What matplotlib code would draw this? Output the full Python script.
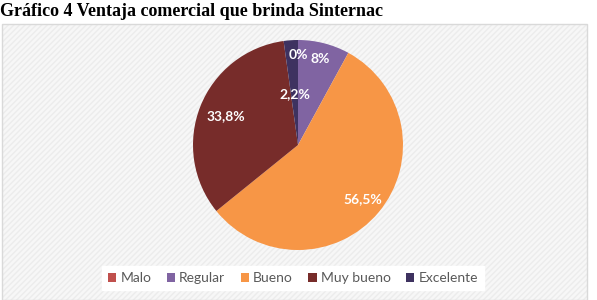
import numpy as np
import matplotlib.pyplot as plt
from matplotlib.patches import Rectangle

categories = ['Malo', 'Regular', 'Bueno', 'Muy bueno', 'Excelente']
values = [0, 8, 56.5, 33.8, 2.2]
colors = ['#c0504d', '#8064a2', '#f79646', '#772c2a', '#3e3260']
title = 'Gráfico 4 Ventaja comercial que brinda Sinternac'


def fmt(v):
    if float(v).is_integer():
        return f'{int(v)}%'
    return f'{v:.1f}%'.replace('.', ',')


fig = plt.figure(figsize=(5.97, 3.0), dpi=100)

# chart area (light hatched background + thin border)
fig.patches.append(Rectangle((2 / 597, 0), 585 / 597, 276 / 300, transform=fig.transFigure,
                             facecolor='#f7f7f7', edgecolor='#ececec', hatch='//////',
                             linewidth=0, zorder=-2))
fig.patches.append(Rectangle((2 / 597, 0), 585 / 597, 276 / 300, transform=fig.transFigure,
                             facecolor='none', edgecolor='#d9d9d9', linewidth=1, zorder=-1))

fig.text(0.0, 1 - 11 / 300, title, fontsize=13, fontweight='bold',
         family='Liberation Serif', ha='left', va='center')

ax = fig.add_axes([(298 - 105) / 597, (300 - 250) / 300, 210 / 597, 210 / 300])
ax.set_zorder(2)
wedges, _ = ax.pie(values, colors=colors, startangle=90, counterclock=False,
                   wedgeprops=dict(linewidth=0))
ax.set_xlim(-1, 1)
ax.set_ylim(-1, 1)
ax.set_aspect('auto')

# label radii per slice
label_r = [0.86, 0.85, 0.81, 0.74, 0.49]
for w, v, r in zip(wedges, values, label_r):
    ang = np.deg2rad((w.theta1 + w.theta2) / 2)
    ax.text(r * np.cos(ang), r * np.sin(ang), fmt(v), ha='center', va='center',
            color='white', fontsize=10, fontweight='bold', family='Lato')

leg = fig.legend(wedges, categories, loc='center', bbox_to_anchor=(293 / 597, 1 - 278 / 300),
                 ncol=5, frameon=True, fancybox=False, edgecolor='white', facecolor='white',
                 framealpha=1, handlelength=0.6, handleheight=0.6, handletextpad=0.3,
                 columnspacing=1.1, borderpad=0.4,
                 prop=dict(family='Lato', size=10))
leg.set_zorder(3)
for t in leg.get_texts():
    t.set_color('#595959')

plt.savefig('out.png', dpi=100)
plt.close()
